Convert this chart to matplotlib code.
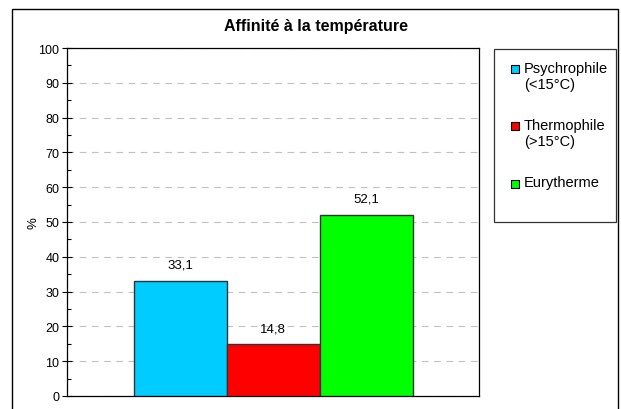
import matplotlib.pyplot as plt
from matplotlib.patches import Rectangle

plt.rcParams['font.family'] = ['Liberation Sans', 'DejaVu Sans']

# Data
categories = ['Psychrophile\n(<15°C)', 'Thermophile\n(>15°C)', 'Eurytherme']
values = [33.1, 14.8, 52.1]
colors = ['#00CCFF', '#FF0000', '#00FF00']
title = "Affinité à la température"

W, H = 621, 410
fig = plt.figure(figsize=(W / 100, H / 100), dpi=100)

# outer chart frame
fig.patches.append(Rectangle((12 / W, -0.05), (618 - 12) / W, 1 - 10 / H + 0.05,
                             transform=fig.transFigure, fill=False,
                             edgecolor='black', linewidth=1.0))

ax = fig.add_axes([67 / W, 1 - 397 / H, (479 - 67) / W, (397 - 49) / H])

# bars side by side in one group
bw = 93 / 412
xs = [0.5 + (i - 1) * bw for i in range(len(values))]
ax.bar(xs, values, width=bw, color=colors, edgecolor='#333333', linewidth=1.0, zorder=3)
for x, v in zip(xs, values):
    ax.text(x, v + 3.7, f"{v:.1f}".replace('.', ','), ha='center', va='baseline', fontsize=9.5)

ax.set_xlim(0, 1)
ax.set_ylim(0, 100)
ax.set_yticks(range(0, 101, 10))
ax.set_yticks(range(5, 100, 10), minor=True)
ax.set_xticks([])
ax.tick_params(axis='y', which='major', direction='inout', length=7, width=0.8, labelsize=9, pad=2)
ax.tick_params(axis='y', which='minor', direction='in', length=3, width=0.8)
ax.yaxis.grid(True, linestyle=(0, (6, 5)), color='#c0c0c0', linewidth=0.8, zorder=0)
for s in ax.spines.values():
    s.set_linewidth(0.9)
    s.set_color('black')
ax.set_ylabel('%', fontsize=9.5)
ax.yaxis.set_label_coords(-0.066, 0.5)

fig.text(316 / W, 1 - 26 / H, title, ha='center', va='center', fontsize=11.5, fontweight='bold')

# legend drawn as a box with squares and labels
fig.patches.append(Rectangle((494 / W, 1 - 223 / H), (616 - 494) / W, (223 - 50) / H,
                             transform=fig.transFigure, fill=False,
                             edgecolor='#333333', linewidth=0.9))
for i, (lab, c) in enumerate(zip(categories, colors)):
    yy = 69.5 + i * 57.5
    fig.patches.append(Rectangle((511 / W, 1 - (yy + 4) / H), 8 / W, 8 / H,
                                 transform=fig.transFigure, facecolor=c,
                                 edgecolor='black', linewidth=0.8))
    fig.text(524 / W, 1 - (yy - 8) / H, lab, ha='left', va='top', fontsize=10.5,
             linespacing=1.2)

fig.savefig('out.png', dpi=100)
